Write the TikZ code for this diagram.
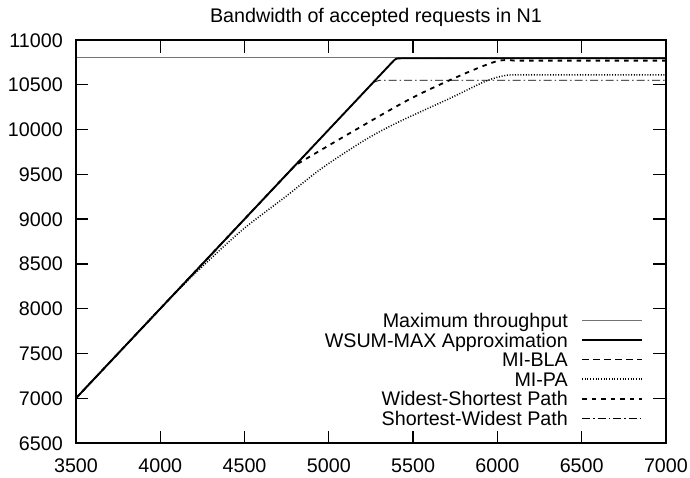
\documentclass[tikz,border=0pt]{standalone}
\usepackage{fontspec}
\setmainfont{Liberation Sans}
\usetikzlibrary{positioning}

\begin{document}
\begin{tikzpicture}[
        x=1pt, y=1pt,
        every node/.style={font=\fontsize{19.7}{22}\selectfont, inner sep=0pt,
            text height=14.1pt, text depth=0pt},
        legtext/.style={anchor=east},
        frame/.style={line width=1.3pt},
        tick/.style={line width=1.3pt},
        maxline/.style={line width=0.9pt, black!55},
        wsumline/.style={line width=1.9pt, line join=round},
        blaline/.style={line width=0.8pt, dash pattern=on 7pt off 4pt},
        paline/.style={line width=1.5pt, dash pattern=on 1pt off 1.7pt},
        wsline/.style={line width=1.8pt, dash pattern=on 4.5pt off 5pt},
        swline/.style={line width=0.8pt, dash pattern=on 8pt off 3pt on 1.5pt off 3pt}
    ]

    \useasboundingbox (0,0) rectangle (690,477);

    % Title
    \node (title) at (376,461.5) {Bandwidth of accepted requests in N1};

    % Data area: 3500..7000 by 6500..11000
    \begin{scope}[x=0.168571pt, y=0.089556pt, shift={(-514pt,-548.11pt)}]

    % Ticks and labels on the y axis
    \foreach \v in {6500,7000,...,11000} {
        \draw[tick] (3500,\v) -- ++(12.5pt,0);
        \draw[tick] (7000,\v) -- ++(-12.5pt,0);
        \node[left=13pt] (y\v) at (3500,\v) {\v};
    }

    % Ticks and labels on the x axis
    \foreach \v in {3500,4000,...,7000} {
        \draw[tick] (\v,6500) -- ++(0,12.5pt);
        \draw[tick] (\v,11000) -- ++(0,-12.5pt);
        \node[below=15pt] (x\v) at (\v,6500) {\v};
    }

    % Maximum throughput
    \draw[maxline] (3500,10800) -- (7000,10800);

    % MI-BLA
    \draw[blaline] (3500,7000) -- (5375,10750)
        .. controls (5398,10796) .. (5430,10796) -- (7000,10796);

    % MI-PA
    \draw[paline] plot[smooth, tension=0.5] coordinates {
        (3500,7000) (4050,8100) (4300,8560) (4500,8900) (4750,9260)
        (4960,9570) (5220,9890) (5420,10090) (5720,10350) (5930,10540)
        (6050,10605) (6150,10610)} -- (7000,10610);

    % Widest-Shortest Path
    \draw[wsline] (3500,7000) -- (4800,9600)
        -- plot[smooth, tension=0.5] coordinates {
        (4800,9600) (5070,9900) (5480,10340) (5800,10620) (6000,10765)
        (6100,10770)} -- (7000,10770);

    % Shortest-Widest Path
    \draw[swline] (3500,7000) -- (5240,10480)
        .. controls (5262,10528) .. (5300,10550) -- (7000,10550);

    % WSUM-MAX Approximation
    \draw[wsumline] (3500,7000) -- (5375,10750)
        .. controls (5398,10796) .. (5430,10796) -- (7000,10796);

    % Frame
    \draw[frame] (3500,6500) rectangle (7000,11000);

    \end{scope}

    % Legend
    \node[legtext] (legmax) at (568,156.3) {Maximum throughput};
    \node[legtext] (legwsum) at ([yshift=-19.5pt]legmax.east) {WSUM-MAX Approximation};
    \node[legtext] (legbla) at ([yshift=-19.5pt]legwsum.east) {MI-BLA};
    \node[legtext] (legpa) at ([yshift=-19.5pt]legbla.east) {MI-PA};
    \node[legtext] (legws) at ([yshift=-19.5pt]legpa.east) {Widest-Shortest Path};
    \node[legtext] (legsw) at ([yshift=-19.5pt]legws.east) {Shortest-Widest Path};

    \draw[maxline] ([xshift=14pt]legmax.east) -- ++(60pt,0);
    \draw[wsumline] ([xshift=14pt]legwsum.east) -- ++(60pt,0);
    \draw[blaline] ([xshift=14pt]legbla.east) -- ++(60pt,0);
    \draw[paline] ([xshift=14pt]legpa.east) -- ++(60pt,0);
    \draw[wsline] ([xshift=14pt]legws.east) -- ++(60pt,0);
    \draw[swline] ([xshift=14pt]legsw.east) -- ++(60pt,0);

\end{tikzpicture}
\end{document}
